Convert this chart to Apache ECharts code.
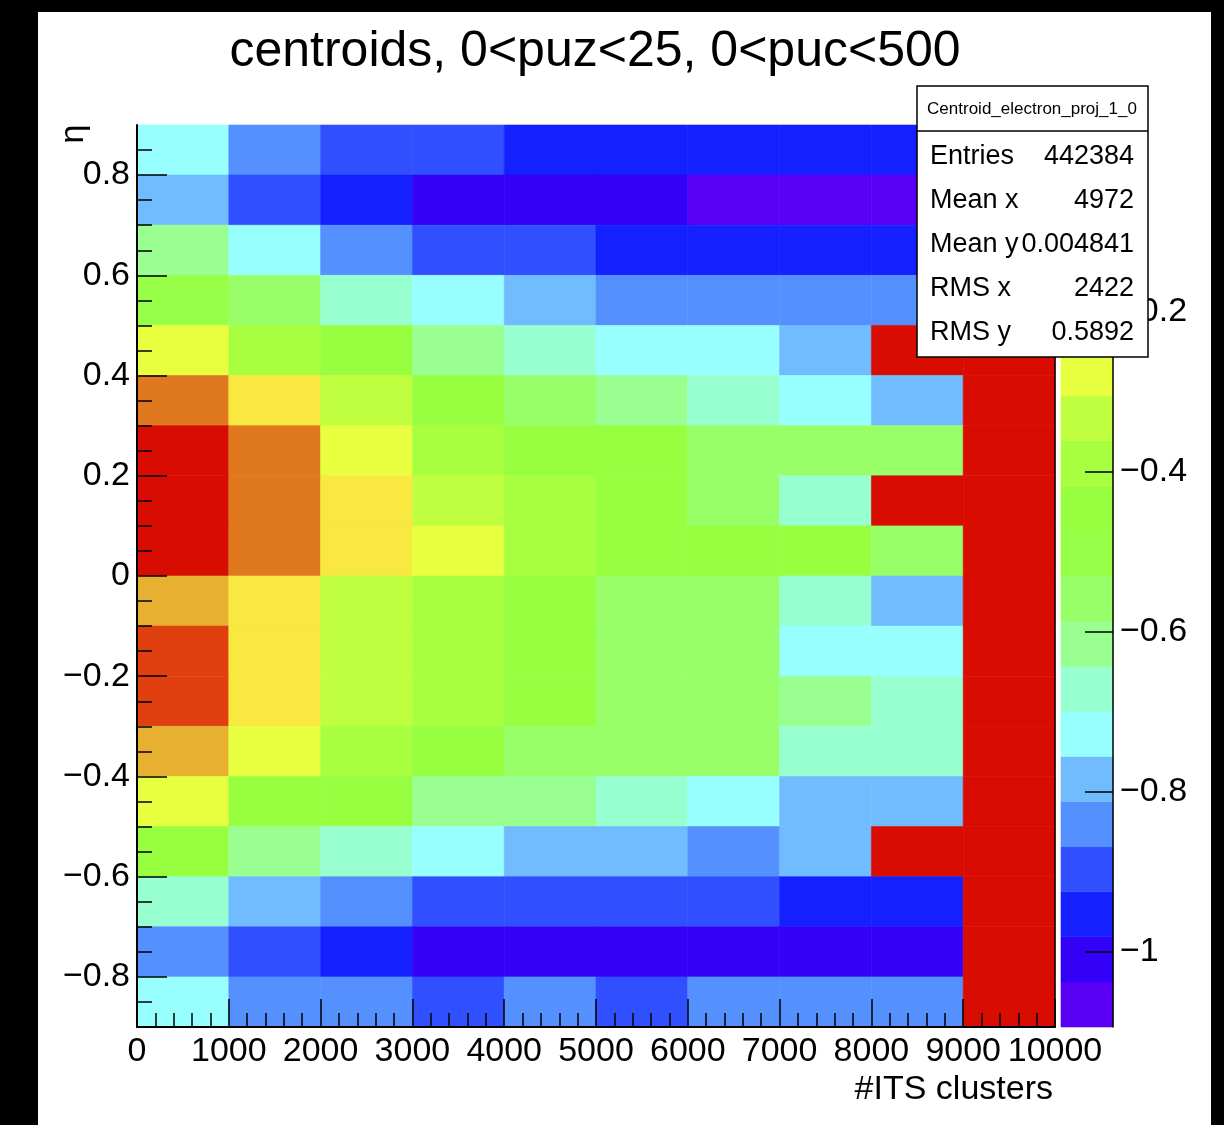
<!DOCTYPE html>
<html>
<head>
<meta charset="utf-8">
<script src="https://cdn.jsdelivr.net/npm/echarts@6/dist/echarts.min.js"></script>
<style>
    html, body { margin: 0; padding: 0; background: #000; }
    #chart { position: absolute; left: 38px; top: 12px; width: 1173px; height: 1113px; background: #fff; }
</style>
</head>
<body>
<div id="chart"></div>
<script>
(function (echarts) {
    "use strict";

    // bin lower edges
    var itsBins = [0, 1000, 2000, 3000, 4000, 5000, 6000, 7000, 8000, 9000];
    var itsStep = 1000;
    var etaStep = 0.1;

    // centroid per eta bin (lower edge in the name), one value per ITS bin
    var etaP08 = [-0.73, -0.84, -0.90, -0.90, -0.95, -0.95, -0.95, -0.95, -0.95, 0];
    var etaP07 = [-0.78, -0.90, -0.95, -1.01, -1.01, -1.01, -1.07, -1.07, -1.07, 0];
    var etaP06 = [-0.61, -0.73, -0.84, -0.90, -0.90, -0.95, -0.95, -0.95, -0.95, 0];
    var etaP05 = [-0.50, -0.56, -0.67, -0.73, -0.78, -0.84, -0.84, -0.84, -0.84, 0];
    var etaP04 = [-0.28, -0.39, -0.45, -0.61, -0.67, -0.73, -0.73, -0.78, 0, 0];
    var etaP03 = [-0.11, -0.22, -0.33, -0.45, -0.56, -0.61, -0.67, -0.73, -0.78, 0];
    var etaP02 = [0, -0.11, -0.28, -0.39, -0.45, -0.45, -0.56, -0.56, -0.56, 0];
    var etaP01 = [0, -0.11, -0.22, -0.33, -0.39, -0.45, -0.56, -0.67, 0, 0];
    var etaP00 = [0, -0.11, -0.22, -0.28, -0.39, -0.45, -0.45, -0.45, -0.56, 0];
    var etaM01 = [-0.16, -0.22, -0.33, -0.39, -0.45, -0.56, -0.56, -0.67, -0.78, 0];
    var etaM02 = [-0.05, -0.22, -0.33, -0.39, -0.45, -0.56, -0.56, -0.73, -0.73, 0];
    var etaM03 = [-0.05, -0.22, -0.33, -0.39, -0.45, -0.56, -0.56, -0.61, -0.67, 0];
    var etaM04 = [-0.16, -0.28, -0.39, -0.45, -0.56, -0.56, -0.56, -0.67, -0.67, 0];
    var etaM05 = [-0.28, -0.45, -0.45, -0.61, -0.61, -0.67, -0.73, -0.78, -0.78, 0];
    var etaM06 = [-0.45, -0.61, -0.67, -0.73, -0.78, -0.78, -0.84, -0.78, 0, 0];
    var etaM07 = [-0.67, -0.78, -0.84, -0.90, -0.90, -0.90, -0.90, -0.95, -0.95, 0];
    var etaM08 = [-0.84, -0.90, -0.95, -1.01, -1.01, -1.01, -1.01, -1.01, -1.01, 0];
    var etaM09 = [-0.73, -0.84, -0.84, -0.90, -0.84, -0.90, -0.84, -0.84, -0.84, 0];

    var etaBins = [0.8, 0.7, 0.6, 0.5, 0.4, 0.3, 0.2, 0.1, 0.0, -0.1, -0.2, -0.3, -0.4, -0.5, -0.6, -0.7, -0.8, -0.9];
    var etaRows = [etaP08, etaP07, etaP06, etaP05, etaP04, etaP03, etaP02, etaP01, etaP00,
        etaM01, etaM02, etaM03, etaM04, etaM05, etaM06, etaM07, etaM08, etaM09];

    var itsLabels = [0, 1000, 2000, 3000, 4000, 5000, 6000, 7000, 8000, 9000, 10000];
    var etaLabels = [-0.8, -0.6, -0.4, -0.2, 0, 0.2, 0.4, 0.6, 0.8];
    var etaMinor = [-0.85, -0.75, -0.7, -0.65, -0.55, -0.5, -0.45, -0.35, -0.3, -0.25, -0.15, -0.1, -0.05,
        0.05, 0.1, 0.15, 0.25, 0.3, 0.35, 0.45, 0.5, 0.55, 0.65, 0.7, 0.75, 0.85];
    var zLabels = [-1, -0.8, -0.6, -0.4, -0.2, 0];

    // colour scale (20 contours)
    var zMin = -1.094;
    var zMax = 0.034;
    var palette = ['#5a00f5', '#3300f8', '#1520ff', '#3050ff', '#5590ff', '#70bcff', '#98ffff', '#98ffd0',
        '#98ff90', '#98ff68', '#98ff48', '#98ff40', '#a8ff40', '#c0ff40', '#e8ff40', '#f8e840',
        '#e8b030', '#e07820', '#e04010', '#d80c00'];
    var zStep = (zMax - zMin) / palette.length;

    var statsNames = ['Entries', 'Mean x', 'Mean y', 'RMS x', 'RMS y'];
    var statsValues = ['442384', '4972', '0.004841', '2422', '0.5892'];

    var FONT = '"Liberation Sans", Arial, Helvetica, sans-serif';

    function colorFor(v) {
        var k = Math.floor((v - zMin) / zStep);
        if (k < 0) k = 0;
        if (k > palette.length - 1) k = palette.length - 1;
        return palette[k];
    }

    function fmt(v) {
        var s = String(Math.round(v * 10) / 10);
        return s.replace('-', '\u2212');
    }

    var cells = [];
    etaRows.forEach(function (row, i) {
        row.forEach(function (v, j) {
            cells.push([itsBins[j], etaBins[i], v]);
        });
    });

    var levels = palette.map(function (c, k) {
        return [zMin + k * zStep, zMin + (k + 1) * zStep, k];
    });

    var chart = echarts.init(document.getElementById('chart'));

    var labelStyle = {color: '#000', fontSize: 34, fontFamily: FONT};
    var tickLine = {color: '#000', width: 1.5};

    var graphics = [
        {
            type: 'text', x: 557, y: 40, z: 100,
            style: {text: 'centroids, 0<puz<25, 0<puc<500', fill: '#000', font: '50px ' + FONT,
                textAlign: 'center', textVerticalAlign: 'middle'}
        },
        {
            type: 'text', x: 36, y: 122, rotation: Math.PI / 2, z: 100,
            style: {text: '\u03b7', fill: '#000', font: '34px ' + FONT, textAlign: 'center', textVerticalAlign: 'middle'}
        },
        {
            type: 'text', x: 1015, y: 1078, z: 100,
            style: {text: '#ITS clusters', fill: '#000', font: '34px ' + FONT, textAlign: 'right', textVerticalAlign: 'middle'}
        },
        {
            type: 'rect', z: 100,
            shape: {x: 879, y: 74, width: 231, height: 271},
            style: {fill: '#fff', stroke: '#000', lineWidth: 1.5}
        },
        {
            type: 'line', z: 101,
            shape: {x1: 879, y1: 119, x2: 1110, y2: 119},
            style: {stroke: '#000', lineWidth: 1.5}
        },
        {
            type: 'text', x: 994, y: 97, z: 101,
            style: {text: 'Centroid_electron_proj_1_0', fill: '#000', font: '17px ' + FONT,
                textAlign: 'center', textVerticalAlign: 'middle'}
        }
    ];
    statsNames.forEach(function (name, i) {
        var yc = 145 + i * 44;
        graphics.push({
            type: 'text', x: 892, y: yc, z: 101,
            style: {text: name, fill: '#000', font: '27px ' + FONT, textVerticalAlign: 'middle'}
        });
        graphics.push({
            type: 'text', x: 1096, y: yc, z: 101,
            style: {text: statsValues[i], fill: '#000', font: '27px ' + FONT, textAlign: 'right', textVerticalAlign: 'middle'}
        });
    });

    var option = {
        animation: false,
        backgroundColor: '#fff',
        grid: [
            {left: 99, top: 113, width: 918, height: 902},
            {left: 1023, top: 113, width: 52, height: 902}
        ],
        xAxis: [
            {
                type: 'value', gridIndex: 0, min: 0, max: 10000, interval: 1000, z: 5,
                axisLine: {show: true, onZero: false, lineStyle: {color: '#000', width: 2}},
                axisTick: {show: true, inside: true, length: 28, lineStyle: tickLine},
                minorTick: {show: true, splitNumber: 5, length: 14, lineStyle: tickLine},
                axisLabel: Object.assign({
                    margin: 8, customValues: itsLabels, showMinLabel: true, showMaxLabel: true, hideOverlap: false,
                    formatter: function (v) { return String(v); }
                }, labelStyle),
                splitLine: {show: false}
            },
            {
                type: 'value', gridIndex: 1, min: 0, max: 1, show: false
            }
        ],
        yAxis: [
            {
                type: 'value', gridIndex: 0, min: -0.9, max: 0.9, z: 5,
                axisLine: {show: true, onZero: false, lineStyle: {color: '#000', width: 2}},
                axisTick: {show: true, inside: true, length: 30, customValues: etaLabels, lineStyle: tickLine},
                axisLabel: Object.assign({margin: 7, customValues: etaLabels, formatter: fmt}, labelStyle),
                splitLine: {show: false}
            },
            {
                type: 'value', gridIndex: 0, min: -0.9, max: 0.9, position: 'left', z: 5,
                axisLine: {show: false, onZero: false},
                axisTick: {show: true, inside: true, length: 15, customValues: etaMinor, lineStyle: tickLine},
                axisLabel: {show: false},
                splitLine: {show: false}
            },
            {
                type: 'value', gridIndex: 0, min: -0.9, max: 0.9, position: 'right', z: 5,
                axisLine: {show: true, onZero: false, lineStyle: {color: '#000', width: 1.5}},
                axisTick: {show: false},
                axisLabel: {show: false},
                splitLine: {show: false}
            },
            {
                type: 'value', gridIndex: 1, min: zMin, max: zMax, position: 'right', z: 5,
                axisLine: {show: true, onZero: false, lineStyle: {color: '#000', width: 1.5}},
                axisTick: {show: true, inside: true, length: 28, customValues: zLabels, lineStyle: tickLine},
                axisLabel: Object.assign({margin: 7, customValues: zLabels, formatter: fmt}, labelStyle),
                splitLine: {show: false}
            }
        ],
        graphic: graphics,
        series: [
            {
                type: 'custom',
                xAxisIndex: 0,
                yAxisIndex: 0,
                z: 2,
                data: cells,
                renderItem: function (params, api) {
                    var x0 = api.value(0), y0 = api.value(1), v = api.value(2);
                    var p0 = api.coord([x0, y0 + etaStep]);
                    var p1 = api.coord([x0 + itsStep, y0]);
                    var c = colorFor(v);
                    return {
                        type: 'rect',
                        shape: {x: p0[0], y: p0[1], width: p1[0] - p0[0], height: p1[1] - p0[1]},
                        style: {fill: c, stroke: c, lineWidth: 0.6}
                    };
                }
            },
            {
                type: 'custom',
                xAxisIndex: 1,
                yAxisIndex: 3,
                z: 2,
                data: levels,
                renderItem: function (params, api) {
                    var lo = api.value(0), hi = api.value(1), k = api.value(2);
                    var p0 = api.coord([0, hi]);
                    var p1 = api.coord([1, lo]);
                    return {
                        type: 'rect',
                        shape: {x: p0[0], y: p0[1], width: p1[0] - p0[0], height: p1[1] - p0[1]},
                        style: {fill: palette[k], stroke: palette[k], lineWidth: 0.6}
                    };
                }
            }
        ]
    };

    chart.setOption(option);
}(echarts));
</script>
</body>
</html>
